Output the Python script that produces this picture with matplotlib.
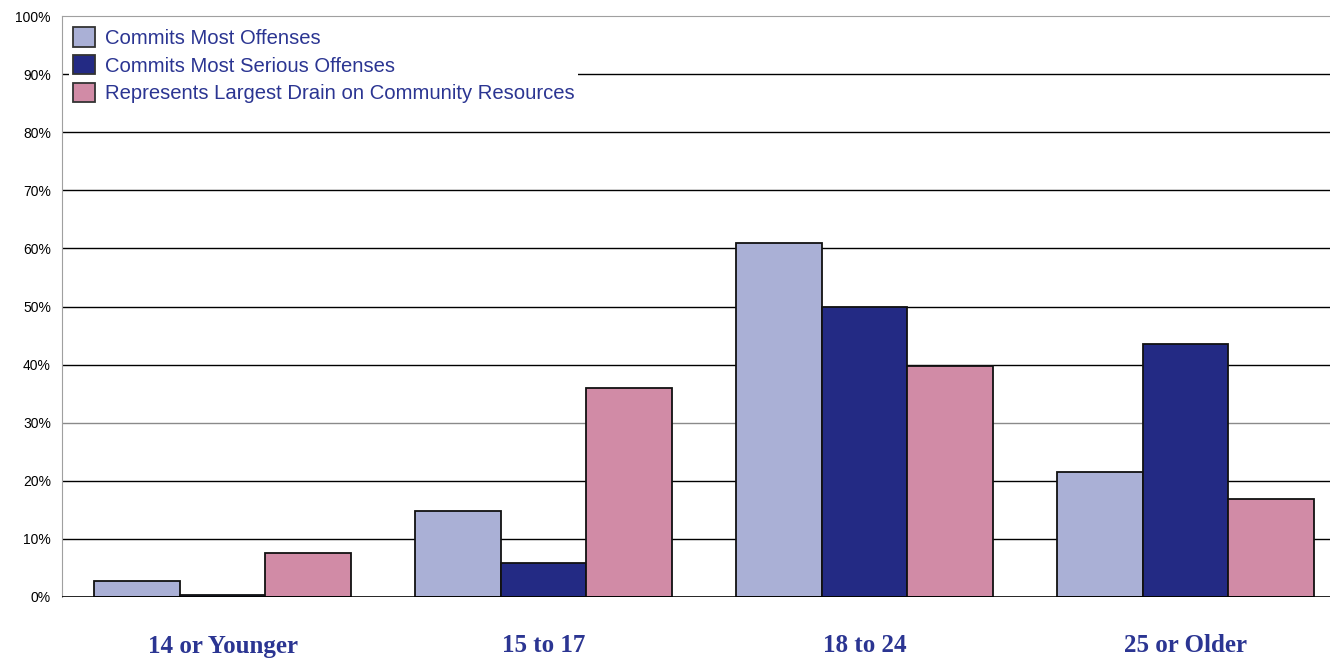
import numpy as np
import matplotlib.pyplot as plt

# age groups and share of responses per group (%)
groups = ['14 or Younger', '15 to 17', '18 to 24', '25 or Older']
most_offenses = [2.7, 14.8, 61.0, 21.5]
most_serious = [0.4, 5.9, 50.0, 43.5]
largest_drain = [7.5, 36.0, 39.8, 16.9]

series_names = ['Commits Most Offenses',
                'Commits Most Serious Offenses',
                'Represents Largest Drain on Community Resources']
colors = ['#aab0d6', '#232a84', '#d18ba6']
text_blue = '#2b3592'

fig = plt.figure(figsize=(13.3, 6.6), dpi=100)
ax = fig.add_axes([62 / 1330, 1 - 597 / 660, 1 - 62 / 1330, (597 - 16) / 660])

x = np.arange(len(groups))
w = 0.267
for i, (vals, name, c) in enumerate(zip([most_offenses, most_serious, largest_drain], series_names, colors)):
    ax.bar(x + (i - 1) * w, vals, w, color=c, edgecolor='#111111', linewidth=1.3,
           label=name, zorder=3)

ax.set_ylim(0, 100)
ax.set_xlim(-0.5, 3.45)
ax.set_yticks(range(0, 101, 10))
ax.set_yticklabels([f'{v}%' for v in range(0, 101, 10)], fontsize=10, family='Liberation Sans')
ax.tick_params(axis='y', length=0, pad=8)
ax.tick_params(axis='x', length=0, pad=27)
ax.set_xticks(x)
ax.set_xticklabels(groups, fontsize=18, fontweight='bold', family='Liberation Serif', color=text_blue)

# horizontal grid
for v in range(10, 100, 10):
    ax.axhline(v, color='#8a8a8a' if v == 30 else 'black', linewidth=1, zorder=1)
ax.axhline(0, color='black', linewidth=1.2, zorder=4)

for s in ['right', 'bottom']:
    ax.spines[s].set_visible(False)
ax.spines['left'].set_color('#a0a0a0')
ax.spines['top'].set_color('#a0a0a0')

leg = ax.legend(loc='upper left', bbox_to_anchor=(0.0, 1.0), frameon=True, fancybox=False,
                framealpha=1, facecolor='white', edgecolor='none',
                handlelength=1.1, handleheight=1.1, handletextpad=0.45, labelspacing=0.35,
                borderpad=0.2, borderaxespad=0.35, prop={'family': 'Liberation Sans', 'size': 14.6})
leg.set_zorder(5)
for t in leg.get_texts():
    t.set_color(text_blue)
for h in leg.legend_handles:
    h.set_edgecolor('#333333')

fig.savefig('out.png', dpi=100)
